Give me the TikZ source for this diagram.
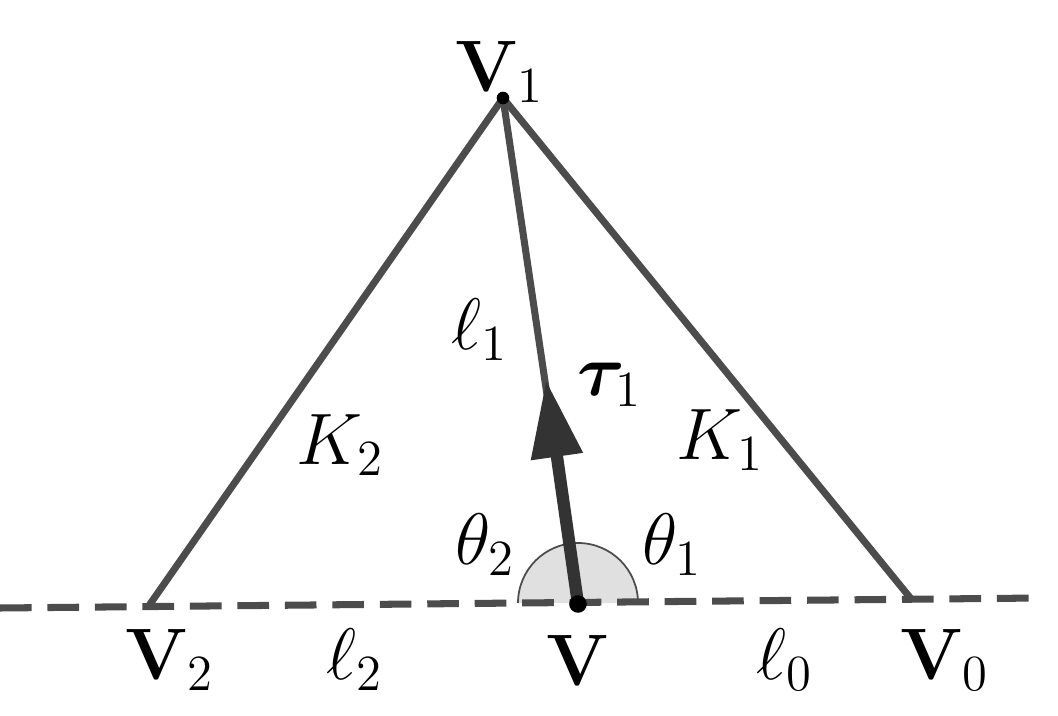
\documentclass[tikz,border=0pt]{standalone}
\usepackage{amsmath,bm}
\usetikzlibrary{arrows.meta}
\begin{document}
\begin{tikzpicture}[x=0.01cm,y=-0.01cm,
  edge/.style={line width=2pt,draw=black!70},
  lbl/.style={font=\fontsize{21}{24}\selectfont,inner sep=0pt}]
\useasboundingbox (0,0) rectangle (1058,716);
\coordinate (V1) at (503,98);
\coordinate (V2) at (148,607);
\coordinate (V) at (578,604);
\coordinate (V0) at (912,600);
\coordinate (L) at (0,608);
\coordinate (R) at (1040,598);
\coordinate (T) at (546,380);
\fill[black!12] (638,603) arc[start angle=0,end angle=-180,radius=60] -- cycle;
\draw[black!70,line width=0.5pt] (638,603) arc[start angle=0,end angle=-180,radius=60];
\draw[edge,dash pattern=on 9pt off 4.5pt] (L) -- (R);
\draw[edge] (V2) -- (V1) -- (V0);
\draw[edge] (V1) -- (V);
\draw[line width=3.5pt,black!80,-{Triangle[length=22pt,width=14pt]}] (V) -- (T);
\fill (V1) circle (1.8pt);
\fill (V) circle (2.5pt);
\node[lbl] (nV1) at (500,72) {$\mathbf{V}_1$};
\node[lbl] (nV2) at (170,660) {$\mathbf{V}_2$};
\node[lbl] (nV) at (578,660) {$\mathbf{V}$};
\node[lbl] (nV0) at (945,660) {$\mathbf{V}_0$};
\node[lbl] (l2) at (355,660) {$\ell_2$};
\node[lbl] (l0) at (785,660) {$\ell_0$};
\node[lbl] (l1) at (480,330) {$\ell_1$};
\node[lbl] (tau) at (610,385) {$\bm{\tau}_1$};
\node[lbl] (K2) at (340,445) {$K_2$};
\node[lbl] (K1) at (720,440) {$K_1$};
\node[lbl] (t2) at (485,545) {$\theta_2$};
\node[lbl] (t1) at (672,545) {$\theta_1$};
\end{tikzpicture}
\end{document}
